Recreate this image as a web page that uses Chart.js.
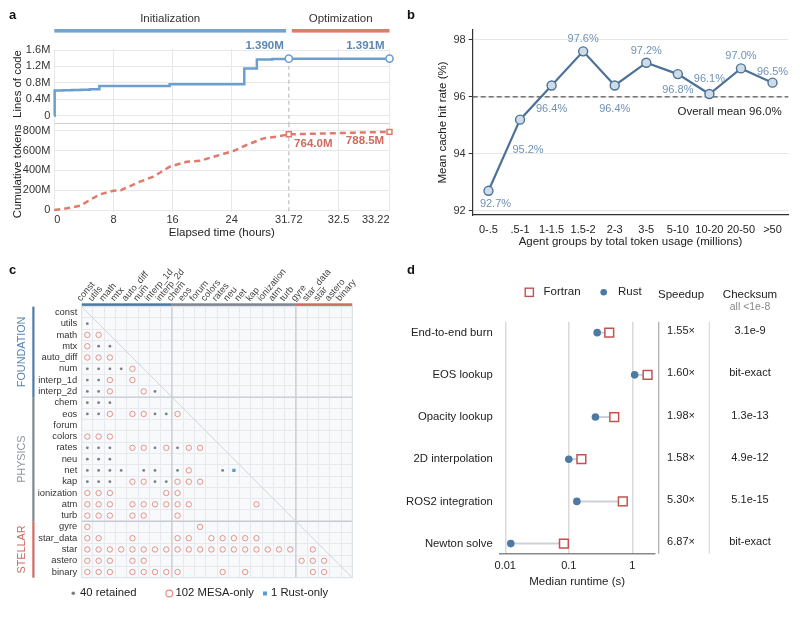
<!DOCTYPE html>
<html><head><meta charset="utf-8"><title>Figure</title>
<script src="https://cdn.jsdelivr.net/npm/chart.js@4.4.1/dist/chart.umd.min.js"></script>
<style>
html,body{margin:0;padding:0;background:#fff;}
#page{position:relative;width:800px;height:625px;overflow:hidden;background:#fff;}
#page canvas{position:absolute;}
.pl{position:absolute;font:bold 13px 'Liberation Sans',Arial,sans-serif;color:#111;line-height:14px;}
</style></head>
<body><div id="page">
<canvas id="aTop" width="400" height="250" style="left:0;top:0"></canvas>
<canvas id="aBot" width="400" height="250" style="left:0;top:0"></canvas>
<canvas id="b" width="400" height="253" style="left:400px;top:0"></canvas>
<canvas id="c" width="400" height="370" style="left:0;top:255px"></canvas>
<canvas id="d" width="400" height="345" style="left:400px;top:255px"></canvas>
<div class="pl" style="left:9px;top:8px">a</div>
<div class="pl" style="left:407px;top:8px">b</div>
<div class="pl" style="left:9px;top:263px">c</div>
<div class="pl" style="left:407px;top:263px">d</div>
</div>
<script>
// ================= DATA =================
// Panel a
const timeTicks = [0, 8, 16, 24, 31.72, 32.5, 33.22];
const locTicks = [0, 0.4, 0.8, 1.2, 1.6];
const tokenTicks = [0, 200, 400, 600, 800];
const locHours = [0, 0.05, 1.2, 2.4, 3.6, 4.8, 6.1, 15.6, 25.7, 27.4, 29.5, 31.72, 33.22];
const locMillions = [0, 0.615, 0.622, 0.628, 0.635, 0.642, 0.725, 0.765, 1.15, 1.37, 1.38, 1.390, 1.391];
const tokenHours = [0, 1.7, 3.5, 4.8, 6.2, 8.0, 9.0, 11.6, 13.4, 15.6, 17.9, 19.7, 21.9, 24.2, 26.0, 28.3, 30.1, 31.72, 33.22];
const tokenMillions = [0, 17, 43, 101, 158, 195, 200, 286, 336, 437, 487, 497, 545, 595, 656, 723, 740, 764.0, 788.5];
const phaseNames = ['Initialization', 'Optimization'];
const phaseBounds = [0, 31.72, 33.22];
const markerHours = [31.72, 33.22];
const aAxisTitles = ['Lines of code', 'Cumulative tokens'];

// Panel b
const tokenGroups = ['0-.5', '.5-1', '1-1.5', '1.5-2', '2-3', '3-5', '5-10', '10-20', '20-50', '>50'];
const cacheHitRates = [92.7, 95.2, 96.4, 97.6, 96.4, 97.2, 96.8, 96.1, 97.0, 96.5];
const meanCacheHitRate = 96.0;
const rateTicks = [92, 94, 96, 98];

// Panel c
const foundationModules = ['const', 'utils', 'math', 'mtx', 'auto_diff', 'num', 'interp_1d', 'interp_2d'];
const physicsModules = ['chem', 'eos', 'forum', 'colors', 'rates', 'neu', 'net', 'kap', 'ionization', 'atm', 'turb'];
const stellarModules = ['gyre', 'star_data', 'star', 'astero', 'binary'];
const groupNames = ['FOUNDATION', 'PHYSICS', 'STELLAR'];
// per row (module index), the column module indices
const retainedByRow = [
  [], [0], [], [1, 2], [], [0, 1, 2, 3], [0, 1], [0, 1, 6],
  [0, 1, 2], [0, 1, 6, 7], [], [], [0, 1, 2, 6, 8], [0, 1, 2], [0, 1, 2, 3, 5, 6, 8, 12], [0, 1, 2, 6, 7], [], [], [],
  [], [], [], [], []
];
const mesaOnlyByRow = [
  [], [], [0, 1], [0], [0, 1, 2], [4], [2, 4], [2, 5],
  [], [2, 4, 5, 8], [], [0, 1, 2], [4, 5, 7, 9, 10], [], [9], [4, 5, 8, 9, 10], [0, 1, 2, 7, 8], [0, 1, 2, 4, 5, 6, 7, 8, 9, 15], [0, 1, 2, 4, 5, 8],
  [0, 10], [0, 1, 4, 8, 9, 11, 12, 13, 14, 15], [0, 1, 2, 3, 4, 5, 6, 7, 8, 9, 10, 11, 12, 13, 14, 15, 16, 17, 18, 20],
  [0, 1, 2, 4, 5, 19, 20, 21], [0, 1, 2, 4, 5, 6, 7, 8, 12, 14, 20, 21]
];
const rustOnlyByRow = [
  [], [], [], [], [], [], [], [],
  [], [], [], [], [], [], [13], [], [], [], [],
  [], [], [], [], []
];

// Panel d
const benchmarks = ['End-to-end burn', 'EOS lookup', 'Opacity lookup', '2D interpolation', 'ROS2 integration', 'Newton solve'];
const fortranRuntime = [0.434, 1.74, 0.52, 0.158, 0.71, 0.0838];
const rustRuntime = [0.28, 1.09, 0.263, 0.100, 0.134, 0.0122];
const speedupLabels = ['1.55×', '1.60×', '1.98×', '1.58×', '5.30×', '6.87×'];
const checksumLabels = ['3.1e-9', 'bit-exact', '1.3e-13', '4.9e-12', '5.1e-15', 'bit-exact'];
const checksumNote = 'all <1e-8';
const runtimeTicks = [0.01, 0.1, 1];

// ================= STYLE / SETUP =================
const FONT = "'Liberation Sans', Arial, Helvetica, sans-serif";
Chart.defaults.font.family = FONT;
Chart.defaults.font.size = 11;
Chart.defaults.color = '#333';
Chart.defaults.animation = false;
Chart.defaults.responsive = false;
Chart.defaults.events = [];
Chart.defaults.plugins.legend.display = false;
Chart.defaults.plugins.tooltip.enabled = false;

const COL = {
  locBlue: '#6c9fcf', tokRed: '#e07a6c', locLabel: '#5b87b6', tokLabel: '#cf6a5e',
  phaseBlue: '#74a3d0', phaseRed: '#df7a6d',
  bLine: '#4c7298', bFill: '#cfdbe7', bLabel: '#6f92b6',
  grpBlue: '#4f7aa6', grpGray: '#7e8791', grpRed: '#cf6b62',
  txtBlue: '#5282b5', txtGray: '#8d96a0', txtRed: '#cf6b62',
  retained: '#7b7f86', mesa: '#e3897e', rust: '#5b9bd5',
  dRust: '#4b7ba5', dFortran: '#c2544f'
};
const setTicks = arr => scale => { scale.ticks = arr.map(v => ({ value: v })); };
function seg(ctx, x1, y1, x2, y2) { ctx.beginPath(); ctx.moveTo(x1, y1); ctx.lineTo(x2, y2); ctx.stroke(); }
function vText(ctx, text, x, y, font, color) {
  ctx.save(); ctx.translate(x, y); ctx.rotate(-Math.PI / 2);
  ctx.font = font; ctx.fillStyle = color; ctx.textAlign = 'center'; ctx.textBaseline = 'middle';
  ctx.fillText(text, 0, 0); ctx.restore();
}

// piecewise time axis (broken scale for the optimization phase)
const phaseIn = [0, 31.72, 32.5, 33.22];
const phaseOut = [0, 0.6996, 0.848, 1];
function pw(v, a, b) {
  let i = 0;
  while (i < a.length - 2 && v > a[i + 1]) i++;
  return b[i] + (v - a[i]) * (b[i + 1] - b[i]) / (a[i + 1] - a[i]);
}
class PhaseScale extends Chart.LinearScale {
  getPixelForValue(v) { return this.getPixelForDecimal(pw(v, phaseIn, phaseOut)); }
  getValueForPixel(p) { return pw(this.getDecimalForPixel(p), phaseOut, phaseIn); }
}
PhaseScale.id = 'phase';
PhaseScale.defaults = Chart.LinearScale.defaults;
Chart.register(PhaseScale);

// ================= PANEL a =================
const locSeries = locHours.map((h, i) => ({ x: h, y: locMillions[i] }));
const locMarkers = locSeries.filter(p => markerHours.includes(p.x));
const tokenSeries = tokenHours.map((h, i) => ({ x: h, y: tokenMillions[i] }));
const tokenMarkers = tokenSeries.filter(p => markerHours.includes(p.x));
const gridX = c => (c.tick && c.tick.value === phaseBounds[1]) ? 'rgba(0,0,0,0)' : '#e8e8e8';

function drawBoundary(chart, fromY, toY) {
  const { ctx, scales: { x } } = chart;
  const bx = x.getPixelForValue(phaseBounds[1]);
  ctx.save(); ctx.strokeStyle = '#c4c4c4'; ctx.lineWidth = 1.3; ctx.setLineDash([4, 3]);
  seg(ctx, bx, fromY, bx, toY); ctx.restore();
}

const aTopPlugin = {
  id: 'aTopExtras',
  beforeDatasetsDraw(chart) {
    const { chartArea: ca, scales: { y } } = chart;
    drawBoundary(chart, y.getPixelForValue(locMarkers[0].y), ca.bottom);
  },
  afterDraw(chart) {
    const { ctx, scales: { x } } = chart;
    ctx.save();
    const cols = [COL.phaseBlue, COL.phaseRed];
    phaseNames.forEach((name, i) => {
      const x1 = x.getPixelForValue(phaseBounds[i]) + (i > 0 ? 3 : 0);
      const x2 = x.getPixelForValue(phaseBounds[i + 1]) - (i < phaseNames.length - 1 ? 2.7 : 0);
      ctx.fillStyle = cols[i];
      ctx.fillRect(x1, 29, x2 - x1, 3.6);
      ctx.fillStyle = '#333'; ctx.font = `11.5px ${FONT}`;
      ctx.textAlign = 'center'; ctx.textBaseline = 'middle';
      ctx.fillText(name, (x1 + x2) / 2, 18.5);
    });
    const meta = chart.getDatasetMeta(0);
    ctx.font = `bold 11.5px ${FONT}`; ctx.fillStyle = COL.locLabel;
    ctx.textAlign = 'right'; ctx.textBaseline = 'middle';
    meta.data.forEach((el, i) => {
      ctx.fillText(locMarkers[i].y.toFixed(3) + 'M', el.x - 5, el.y - 12.5);
    });
    ctx.restore();
    vText(ctx, aAxisTitles[0], 18, 84, `11.4px ${FONT}`, '#222');
  }
};

new Chart(document.getElementById('aTop'), {
  type: 'line',
  data: { datasets: [
    { data: locMarkers, order: 0, showLine: false, clip: false, pointStyle: 'circle', pointRadius: 3.6,
      pointBackgroundColor: '#fff', pointBorderColor: COL.locBlue, pointBorderWidth: 1.6 },
    { data: locSeries, order: 1, stepped: 'before', clip: false, borderColor: COL.locBlue, borderWidth: 2.5, pointRadius: 0 }
  ]},
  options: {
    layout: { padding: { top: 49.2, right: 10.5, bottom: 126.7, left: 0 } },
    scales: {
      x: { type: 'phase', min: 0, max: 33.22, afterBuildTicks: setTicks(timeTicks),
        ticks: { display: false }, grid: { color: gridX, drawTicks: false },
        border: { display: true, color: '#cdcdcd', width: 1 }, afterFit: s => { s.height = 0; } },
      y: { min: -0.185, max: 1.62, afterBuildTicks: setTicks(locTicks),
        ticks: { padding: 4, color: '#333', font: { size: 11 }, callback: v => v === 0 ? '0' : v.toFixed(1) + 'M' },
        grid: { color: '#e8e8e8', drawTicks: false }, border: { display: false },
        afterFit: s => { s.width = 54.3; } }
    }
  },
  plugins: [aTopPlugin]
});

const aBotPlugin = {
  id: 'aBotExtras',
  beforeDatasetsDraw(chart) {
    const { chartArea: ca } = chart;
    drawBoundary(chart, ca.top, ca.bottom);
  },
  afterDraw(chart) {
    const { ctx } = chart;
    const meta = chart.getDatasetMeta(0);
    ctx.save();
    ctx.font = `bold 11.5px ${FONT}`; ctx.fillStyle = COL.tokLabel; ctx.textBaseline = 'middle';
    meta.data.forEach((el, i) => {
      const last = i === meta.data.length - 1;
      ctx.textAlign = last ? 'right' : 'left';
      ctx.fillText(tokenMarkers[i].y.toFixed(1) + 'M', last ? el.x - 5.3 : el.x + 5.3, el.y + 9.2);
    });
    ctx.restore();
    vText(ctx, aAxisTitles[1], 18, 171.5, `11.4px ${FONT}`, '#222');
  }
};

new Chart(document.getElementById('aBot'), {
  type: 'line',
  data: { datasets: [
    { data: tokenMarkers, order: 0, showLine: false, clip: false, pointStyle: 'rect', pointRadius: 3.5,
      pointBackgroundColor: '#fff', pointBorderColor: COL.tokRed, pointBorderWidth: 1.5 },
    { data: tokenSeries, order: 1, clip: false, borderColor: COL.tokRed, borderWidth: 2.5, borderDash: [6, 4],
      pointRadius: 0, tension: 0 }
  ]},
  options: {
    layout: { padding: { top: 123.3, right: 10.5, bottom: 6, left: 0 } },
    scales: {
      x: { type: 'phase', min: 0, max: 33.22, afterBuildTicks: setTicks(timeTicks),
        ticks: { padding: 2, align: 'inner', color: '#333', font: { size: 11 }, callback: v => String(v) },
        grid: { color: gridX, drawTicks: false }, border: { display: false },
        title: { display: true, text: 'Elapsed time (hours)', font: { size: 11.5 }, color: '#222', padding: { top: 0, bottom: 4 } },
        afterFit: s => { s.height = 32.3; } },
      y: { min: -17, max: 875, afterBuildTicks: setTicks(tokenTicks),
        ticks: { padding: 4, color: '#333', font: { size: 11 }, callback: v => v === 0 ? '0' : v + 'M' },
        grid: { color: '#e8e8e8', drawTicks: false }, border: { display: false },
        afterFit: s => { s.width = 54.3; } }
    }
  },
  plugins: [aBotPlugin]
});

// ================= PANEL b =================
const rateLabelOffsets = [[7, 13], [8, 30], [0, 23], [0, -12], [0, 23], [0, -12], [0, 16], [0, -15], [0, -12], [0, -11]];
const bPlugin = {
  id: 'bExtras',
  beforeDatasetsDraw(chart) {
    const { ctx, chartArea: ca, scales: { y } } = chart;
    const my = y.getPixelForValue(meanCacheHitRate);
    ctx.save(); ctx.strokeStyle = '#555'; ctx.lineWidth = 1.3; ctx.setLineDash([5, 3]);
    seg(ctx, ca.left, my, ca.right, my);
    ctx.setLineDash([]);
    ctx.fillStyle = '#222'; ctx.font = `11.5px ${FONT}`; ctx.textAlign = 'right'; ctx.textBaseline = 'middle';
    ctx.fillText(`Overall mean ${meanCacheHitRate.toFixed(1)}%`, ca.right - 6.6, my + 14.6);
    ctx.restore();
  },
  afterDatasetsDraw(chart) {
    const { ctx } = chart;
    const meta = chart.getDatasetMeta(0);
    ctx.save(); ctx.fillStyle = COL.bLabel; ctx.font = `11px ${FONT}`;
    ctx.textAlign = 'center'; ctx.textBaseline = 'middle';
    meta.data.forEach((el, i) => {
      const [dx, dy] = rateLabelOffsets[i];
      ctx.fillText(cacheHitRates[i].toFixed(1) + '%', el.x + dx, el.y + dy);
    });
    ctx.restore();
  }
};
new Chart(document.getElementById('b'), {
  type: 'line',
  data: { labels: tokenGroups, datasets: [
    { data: cacheHitRates, borderColor: COL.bLine, borderWidth: 2.2, tension: 0, pointRadius: 4.5,
      pointBackgroundColor: COL.bFill, pointBorderColor: COL.bLine, pointBorderWidth: 1.4, clip: false }
  ]},
  options: {
    layout: { padding: { top: 30, right: 11.7, bottom: 0, left: 0 } },
    scales: {
      x: { offset: true, grid: { display: false, drawTicks: false }, border: { display: true, color: '#333', width: 1.2 },
        ticks: { padding: 8.4, color: '#222', font: { size: 11 }, autoSkip: false, maxRotation: 0 },
        title: { display: true, text: 'Agent groups by total token usage (millions)', font: { size: 11.5 }, color: '#222', padding: { top: 0, bottom: 4 } },
        afterFit: s => { s.height = 38; } },
      y: { min: 91.85, max: 98.35, afterBuildTicks: setTicks(rateTicks),
        ticks: { padding: 3, color: '#333', font: { size: 11 } },
        grid: { color: '#e6e6e6', tickLength: 4, tickColor: '#333' }, border: { display: true, color: '#333', width: 1.2 },
        title: { display: true, text: 'Mean cache hit rate (%)', font: { size: 11.5 }, color: '#222', padding: { top: 36, bottom: 0 } },
        afterFit: s => { s.width = 72.7; } }
    }
  },
  plugins: [bPlugin]
});

// ================= PANEL c =================
const modules = foundationModules.concat(physicsModules, stellarModules);
const groups = [foundationModules, physicsModules, stellarModules];
const toPoints = rows => rows.flatMap((cols, r) => cols.map(c => ({ x: modules[c], y: modules[r] })));
const retainedCount = retainedByRow.flat().length;
const mesaCount = mesaOnlyByRow.flat().length;
const rustCount = rustOnlyByRow.flat().length;

const cPlugin = {
  id: 'cExtras',
  beforeDraw(chart) {
    const { ctx, chartArea: ca } = chart;
    ctx.save(); ctx.fillStyle = '#f7f9fb'; ctx.fillRect(ca.left, ca.top, ca.width, ca.height); ctx.restore();
  },
  beforeDatasetsDraw(chart) {
    const { ctx, chartArea: ca, scales: { x, y } } = chart;
    ctx.save();
    ctx.strokeStyle = '#d3d7dc'; ctx.lineWidth = 1;
    seg(ctx, ca.left, ca.top, ca.right, ca.bottom);
    ctx.strokeStyle = '#c6cbd2'; ctx.lineWidth = 1.3;
    let acc = 0;
    groups.forEach((g, gi) => {
      if (gi > 0) {
        const px = x.getPixelForValue(acc - 0.5), py = y.getPixelForValue(acc - 0.5);
        seg(ctx, px, ca.top, px, ca.bottom);
        seg(ctx, ca.left, py, ca.right, py);
      }
      acc += g.length;
    });
    ctx.strokeStyle = '#dde1e6'; ctx.lineWidth = 1;
    ctx.strokeRect(ca.left, ca.top, ca.width, ca.height);
    ctx.restore();
  },
  afterDraw(chart) {
    const { ctx, chartArea: ca, scales: { x, y } } = chart;
    const barCols = [COL.grpBlue, COL.grpGray, COL.grpRed];
    const txtCols = [COL.txtBlue, COL.txtGray, COL.txtRed];
    ctx.save();
    let acc = 0;
    groups.forEach((g, gi) => {
      const x1 = x.getPixelForValue(acc - 0.5), x2 = x.getPixelForValue(acc + g.length - 0.5);
      const y1 = y.getPixelForValue(acc - 0.5), y2 = y.getPixelForValue(acc + g.length - 0.5);
      ctx.fillStyle = barCols[gi];
      ctx.fillRect(x1, ca.top - 3.4, x2 - x1, 2.6);
      ctx.fillRect(32.3, y1, 2.2, y2 - y1);
      vText(ctx, groupNames[gi], 22, (y1 + y2) / 2, `10.8px ${FONT}`, txtCols[gi]);
      acc += g.length;
    });
    // legend
    const ly = 337.7;
    ctx.fillStyle = COL.retained; ctx.beginPath(); ctx.arc(73.3, ly + 0.5, 1.8, 0, Math.PI * 2); ctx.fill();
    ctx.strokeStyle = COL.mesa; ctx.lineWidth = 1.1; ctx.beginPath(); ctx.arc(169.3, ly + 0.8, 3.4, 0, Math.PI * 2); ctx.stroke();
    ctx.fillStyle = COL.rust; ctx.fillRect(263, ly - 1.2, 4, 4);
    ctx.fillStyle = '#222'; ctx.font = `11.3px ${FONT}`; ctx.textAlign = 'left'; ctx.textBaseline = 'middle';
    ctx.fillText(`${retainedCount} retained`, 80, ly);
    ctx.fillText(`${mesaCount} MESA-only`, 175.5, ly);
    ctx.fillText(`${rustCount} Rust-only`, 271, ly);
    ctx.restore();
  }
};

new Chart(document.getElementById('c'), {
  type: 'scatter',
  data: { datasets: [
    { label: 'retained', data: toPoints(retainedByRow), pointRadius: 1.4, pointBackgroundColor: COL.retained, pointBorderWidth: 0 },
    { label: 'MESA-only', data: toPoints(mesaOnlyByRow), pointRadius: 2.7, pointBackgroundColor: 'rgba(255,255,255,0)', pointBorderColor: COL.mesa, pointBorderWidth: 0.9 },
    { label: 'Rust-only', data: toPoints(rustOnlyByRow), pointStyle: 'rect', pointRadius: 2.3, pointBackgroundColor: COL.rust, pointBorderWidth: 0 }
  ]},
  options: {
    layout: { padding: { top: 0, right: 47.7, bottom: 47.3, left: 0 } },
    scales: {
      x: { type: 'category', labels: modules, position: 'top', offset: true,
        grid: { offset: true, color: '#e6eaee', drawTicks: false }, border: { display: false },
        ticks: { minRotation: 50, maxRotation: 50, autoSkip: false, font: { size: 9.3 }, color: '#444', padding: 3 },
        afterFit: s => { s.height = 51.7; } },
      y: { type: 'category', labels: modules, offset: true,
        grid: { offset: true, color: '#e6eaee', drawTicks: false }, border: { display: false },
        ticks: { autoSkip: false, font: { size: 9.4 }, color: '#333', padding: 4.4 },
        afterFit: s => { s.width = 81.7; } }
    }
  },
  plugins: [cPlugin]
});

// ================= PANEL d =================
const dPlugin = {
  id: 'dExtras',
  beforeDatasetsDraw(chart) {
    const { ctx } = chart;
    const f = chart.getDatasetMeta(0).data, r = chart.getDatasetMeta(1).data;
    ctx.save(); ctx.strokeStyle = '#cdd1d6'; ctx.lineWidth = 2;
    f.forEach((pt, i) => seg(ctx, r[i].x, r[i].y, pt.x, pt.y));
    ctx.restore();
  },
  afterDraw(chart) {
    const { ctx, chartArea: ca, scales: { y } } = chart;
    ctx.save();
    ctx.lineWidth = 1.3;
    ctx.strokeStyle = '#b3b3b3'; seg(ctx, 258.7, ca.top, 258.7, ca.bottom);
    ctx.strokeStyle = '#dcdcdc'; seg(ctx, 309.3, ca.top, 309.3, ca.bottom);
    ctx.textAlign = 'center'; ctx.textBaseline = 'middle';
    ctx.fillStyle = '#222'; ctx.font = `11.5px ${FONT}`;
    ctx.fillText('Speedup', 281, 39.5);
    ctx.fillText('Checksum', 350, 39.5);
    ctx.fillStyle = '#888'; ctx.font = `10.5px ${FONT}`;
    ctx.fillText(checksumNote, 350, 52.5);
    ctx.fillStyle = '#222'; ctx.font = `11px ${FONT}`;
    speedupLabels.forEach((s, i) => {
      const py = y.getPixelForValue(i) - 1.5;
      ctx.fillText(s, 281, py);
      ctx.fillText(checksumLabels[i], 350, py);
    });
    // legend
    ctx.strokeStyle = COL.dFortran; ctx.lineWidth = 1.4; ctx.fillStyle = '#fff';
    ctx.fillRect(125.2, 33.2, 8.2, 8.2); ctx.strokeRect(125.2, 33.2, 8.2, 8.2);
    ctx.fillStyle = COL.dRust; ctx.beginPath(); ctx.arc(203.7, 37.3, 3.3, 0, Math.PI * 2); ctx.fill();
    ctx.fillStyle = '#222'; ctx.font = `11.5px ${FONT}`; ctx.textAlign = 'left';
    ctx.fillText('Fortran', 143.5, 37);
    ctx.fillText('Rust', 218, 37);
    ctx.restore();
  }
};

new Chart(document.getElementById('d'), {
  type: 'scatter',
  data: { datasets: [
    { label: 'Fortran', data: fortranRuntime.map((v, i) => ({ x: v, y: i })), pointStyle: 'rect', pointRadius: 6.2,
      pointBackgroundColor: '#fff', pointBorderColor: COL.dFortran, pointBorderWidth: 1.5 },
    { label: 'Rust', data: rustRuntime.map((v, i) => ({ x: v, y: i })), pointRadius: 3.8,
      pointBackgroundColor: COL.dRust, pointBorderWidth: 0 }
  ]},
  options: {
    layout: { padding: { top: 66.7, right: 145, bottom: 6.8, left: 0 } },
    scales: {
      x: { type: 'logarithmic', min: 0.00805, max: 2.28, afterBuildTicks: setTicks(runtimeTicks),
        ticks: { padding: 6, color: '#222', font: { size: 11 }, callback: v => String(v) },
        grid: { color: '#dadada', lineWidth: 1.5, drawTicks: false }, border: { display: true, color: '#888', width: 1.5 },
        title: { display: true, text: 'Median runtime (s)', font: { size: 11.5 }, color: '#222', padding: { top: 0, bottom: 4 } },
        afterFit: s => { s.height = 39.5; } },
      y: { type: 'linear', reverse: true, min: -0.26, max: 5.24,
        afterBuildTicks: setTicks(benchmarks.map((b, i) => i)),
        ticks: { padding: 6.6, color: '#222', font: { size: 11.3 }, callback: v => benchmarks[v] },
        grid: { display: false, drawTicks: false }, border: { display: false },
        afterFit: s => { s.width = 99.3; } }
    }
  },
  plugins: [dPlugin]
});
</script>
</body></html>
